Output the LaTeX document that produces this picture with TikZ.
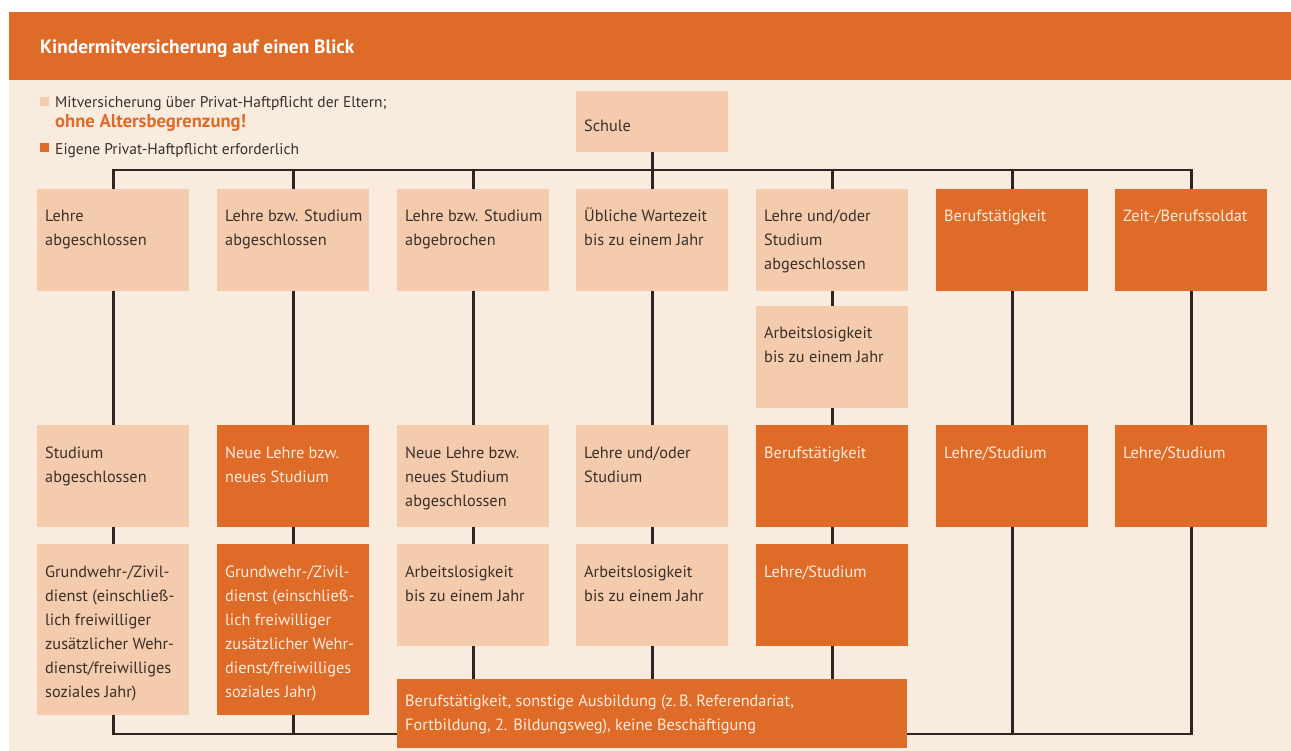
\documentclass[tikz,border=0pt]{standalone}
\usepackage{fontspec}
\setmainfont{PT Sans}
\usetikzlibrary{calc}
\definecolor{hdr}{HTML}{DF6B28}
\definecolor{bgc}{HTML}{FAEBDF}
\definecolor{peach}{HTML}{F4CBAC}
\definecolor{ink}{HTML}{3A302B}
\definecolor{wtxt}{HTML}{FCEBDD}
\definecolor{wire}{HTML}{2B2523}
\begin{document}
\begin{tikzpicture}[x=1pt,y=-1pt,
  lbox/.style={fill=peach,draw=none,anchor=north west,inner sep=0pt,minimum width=152pt},
  obox/.style={fill=hdr,draw=none,anchor=north west,inner sep=0pt,minimum width=152pt},
  ltxt/.style={anchor=base west,inner sep=0pt,text=ink,font=\fontsize{16.3}{24}\selectfont},
  otxt/.style={anchor=base west,inner sep=0pt,text=wtxt,font=\fontsize{16.3}{24}\selectfont},
  wirel/.style={draw=wire,line width=2.6pt,line join=miter}]
\useasboundingbox (0,0) rectangle (1291,751);
\fill[bgc] (9,80) rectangle (1291,751);
\node[fill=hdr,anchor=north west,inner sep=0pt,minimum width=1282pt,minimum height=68pt] (header) at (9,12) {};
\node[anchor=base west,inner sep=0pt,text=white,font=\fontsize{19.3}{22}\selectfont\bfseries] (title) at (40,54) {Kindermitversicherung auf einen Blick};
% legend
\node[fill=peach,anchor=north west,inner sep=0pt,minimum size=9pt] (legl) at (40,97) {};
\node[ltxt,font=\fontsize{15.5}{20}\selectfont] (legltxt) at (55,108) {Mitversicherung über Privat-Haftpflicht der Eltern;};
\node[anchor=base west,inner sep=0pt,text=hdr,font=\fontsize{18.6}{20}\selectfont\bfseries] (legltxt2) at (55,128) {ohne Altersbegrenzung!};
\node[fill=hdr,anchor=north west,inner sep=0pt,minimum size=9pt] (lego) at (40,143) {};
\node[ltxt,font=\fontsize{15.5}{20}\selectfont] (legotxt) at (55,155) {Eigene Privat-Haftpflicht erforderlich};
% boxes
\newcommand{\bx}[7]{% name, style, x, y, height, text style, text
  \node[#2,minimum height=#5pt] (#1) at (#3,#4) {};
  \node[#6] (#1t) at ($(#1.north west)+(8,33)$) {\parbox[t]{148pt}{\raggedright #7}};}
\node[lbox,minimum height=61pt] (schule) at (576,91) {};
\node[ltxt] (schulet) at (584,132) {Schule};
% row 1
\bx{a1}{lbox}{37}{189}{102}{ltxt}{Lehre\\abgeschlossen}
\bx{a2}{lbox}{217}{189}{102}{ltxt}{Lehre bzw. Studium\\abgeschlossen}
\bx{a3}{lbox}{397}{189}{102}{ltxt}{Lehre bzw. Studium\\abgebrochen}
\bx{a4}{lbox}{576}{189}{102}{ltxt}{Übliche Wartezeit\\bis zu einem Jahr}
\bx{a5}{lbox}{756}{189}{102}{ltxt}{Lehre und/oder\\Studium\\abgeschlossen}
\bx{a6}{obox}{936}{189}{102}{otxt}{Berufstätigkeit}
\bx{a7}{obox}{1115}{189}{102}{otxt}{Zeit-/Berufssoldat}
\bx{x5}{lbox}{756}{306}{102}{ltxt}{Arbeitslosigkeit\\bis zu einem Jahr}
% row 2
\bx{b1}{lbox}{37}{425}{102}{ltxt}{Studium\\abgeschlossen}
\bx{b2}{obox}{217}{425}{102}{otxt}{Neue Lehre bzw.\\neues Studium}
\bx{b3}{lbox}{397}{425}{102}{ltxt}{Neue Lehre bzw.\\neues Studium\\abgeschlossen}
\bx{b4}{lbox}{576}{425}{102}{ltxt}{Lehre und/oder\\Studium}
\bx{b5}{obox}{756}{425}{102}{otxt}{Berufstätigkeit}
\bx{b6}{obox}{936}{425}{102}{otxt}{Lehre/Studium}
\bx{b7}{obox}{1115}{425}{102}{otxt}{Lehre/Studium}
% row 3
\bx{c1}{lbox}{37}{544}{171}{ltxt}{Grundwehr-/Zivil-\\dienst (einschließ-\\lich freiwilliger\\zusätzlicher Wehr-\\dienst/freiwilliges\\soziales Jahr)}
\bx{c2}{obox}{217}{544}{171}{otxt}{Grundwehr-/Zivil-\\dienst (einschließ-\\lich freiwilliger\\zusätzlicher Wehr-\\dienst/freiwilliges\\soziales Jahr)}
\bx{c3}{lbox}{397}{544}{102}{ltxt}{Arbeitslosigkeit\\bis zu einem Jahr}
\bx{c4}{lbox}{576}{544}{102}{ltxt}{Arbeitslosigkeit\\bis zu einem Jahr}
\bx{c5}{obox}{756}{544}{102}{otxt}{Lehre/Studium}
% bottom
\node[obox,minimum width=510pt,minimum height=69pt] (bot) at (397,679) {};
\node[otxt] (bott) at ($(bot.north west)+(8,27)$) {\parbox[t]{500pt}{Berufstätigkeit, sonstige Ausbildung (z.\,B. Referendariat,\\Fortbildung, 2. Bildungsweg), keine Beschäftigung}};
% wires
\coordinate (tb) at (0,170);
\coordinate (bb) at (0,734);
\draw[wirel] (schule.south) -- (schule.south |- tb);
\draw[wirel] (a1.north) -- (a1.north |- tb) -- (a7.north |- tb) -- (a7.north);
\foreach \n in {a2,a3,a4,a5,a6} {\draw[wirel] (\n.north) -- (\n.north |- tb);}
\foreach \u/\v in {a1/b1,b1/c1,a2/b2,b2/c2,a3/b3,b3/c3,a4/b4,b4/c4,a5/x5,x5/b5,b5/c5,a6/b6,a7/b7} {\draw[wirel] (\u.south) -- (\v.north);}
\foreach \n in {c3,c4,c5} {\draw[wirel] (\n.south) -- (\n.south |- bot.north);}
\draw[wirel] (c1.south) -- (c1.south |- bb) -- (bot.west |- bb);
\draw[wirel] (c2.south) -- (c2.south |- bb);
\draw[wirel] (b7.south) -- (b7.south |- bb) -- (bot.east |- bb);
\draw[wirel] (b6.south) -- (b6.south |- bb);
\end{tikzpicture}
\end{document}
